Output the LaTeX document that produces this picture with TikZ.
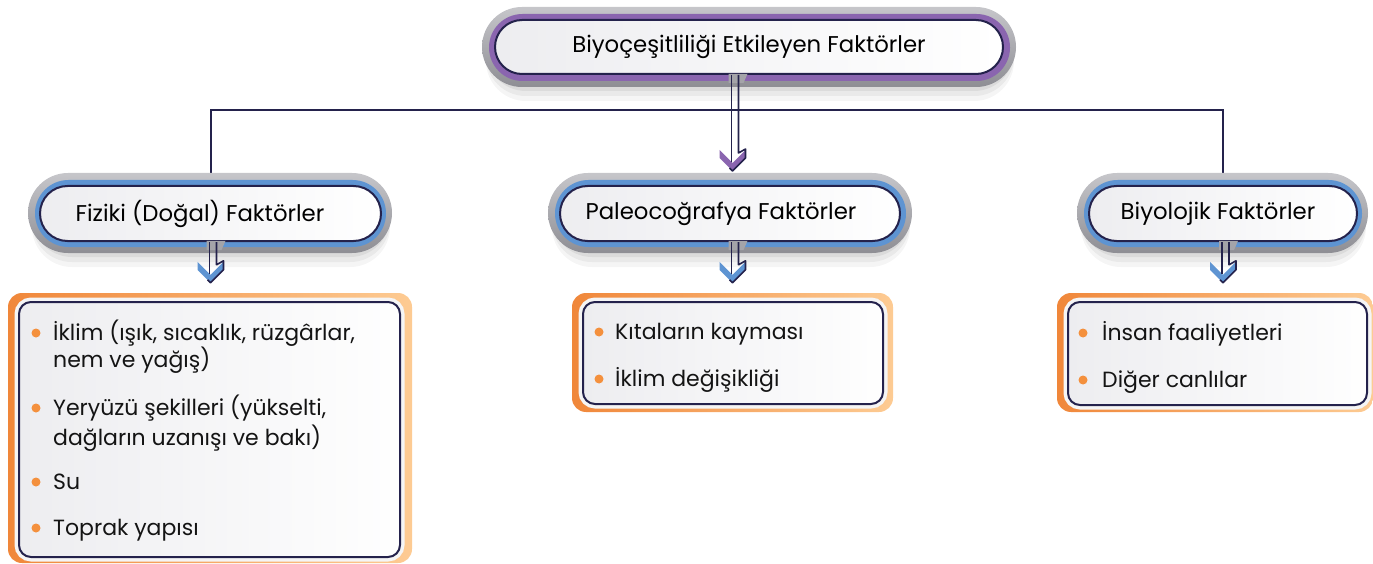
\documentclass[tikz,border=0pt]{standalone}
\usepackage{fontspec}
\setmainfont{Poppins}
\usetikzlibrary{backgrounds,calc,shapes.misc}
\definecolor{navy}{HTML}{24224C}
\definecolor{cpurple}{HTML}{8A65AF}
\definecolor{cblue}{HTML}{5E94D2}
\definecolor{gtop}{HTML}{C6C6CA}
\definecolor{gbot}{HTML}{8E8E94}
\definecolor{gnotch}{HTML}{A4A4A9}
\definecolor{oleft}{HTML}{F0873A}
\definecolor{oright}{HTML}{FDCB93}
\definecolor{bulletc}{HTML}{F4903D}
\definecolor{paper}{HTML}{EDEDF0}
\tikzset{
  conn/.style={draw=navy, line width=2pt},
  pillnode/.style={shape=rounded rectangle, draw=navy, line width=2pt, left color=paper, right color=white, inner sep=0pt, font=\fontsize{22.8}{26}\selectfont, text=black},
  listbox/.style={rectangle, rounded corners=14pt, left color=oleft, right color=oright, inner sep=0pt},
  innerbox/.style={rectangle, rounded corners=12pt, draw=navy, line width=2pt, left color=paper, right color=white!97!paper, inner sep=0pt, preaction={draw=white!92!gray, line width=9pt}},
  itemtext/.style={anchor=base west, inner sep=0pt, font=\fontsize{22}{28}\selectfont, text=black!92},
  dot/.style={circle, fill=bulletc, minimum size=9pt, inner sep=0pt},
  arrline/.style={draw=navy, line width=1.6pt, line join=round},
}
\newcommand\pillrings[5]{%
  \pgfmathsetmacro\rA{(#4-#2)/2}%
  \foreach \k/\op in {4/0.06,9/0.05,14/0.04}{\fill[black, opacity=\op, rounded corners=\rA pt] (#1+4,#2+\k) rectangle (#3-2,#4+\k);}
  \shade[top color=gtop, bottom color=gbot, rounded corners=\rA pt] (#1,#2) rectangle (#3,#4);
  \pgfmathsetmacro\rB{(#4-#2-13)/2}%
  \fill[#5, rounded corners=\rB pt] (#1+7,#2+7) rectangle (#3-6,#4-6);
}
% #1 start on pill edge, #2 tip, #3 colour
\newcommand\hollowarrow[3]{%
  \coordinate (S) at (#2 |- #1);
  \coordinate (T) at (#2);
  \fill[gnotch] ($(S)+(-4,-1.2)$) -- ($(S)+(15,-1.2)$) -- ($(S)+(11,8)$) -- ($(S)+(-4,8)$) -- cycle;
  \fill[#3] ($(T)+(-13,-21)$) -- ($(T)+(0,-8)$) -- ($(T)+(13,-21)$) -- ($(T)+(13,-13)$) -- (T) -- ($(T)+(-13,-13)$) -- cycle;
  \draw[arrline] ($(S)+(-1,0)$) -- ($(T)+(-1,-9)$);
  \draw[arrline] ($(S)+(6,0)$) -- ($(T)+(6,-18)$) -- ($(T)+(13,-22)$) -- ($(T)+(13,-13)$) -- (T) -- ($(T)+(-3,-3)$);
}
\begin{document}
\begin{tikzpicture}[x=1pt,y=-1pt]
\useasboundingbox (0,0) rectangle (1373,564);
% top
\pillrings{482}{7}{1016}{87}{cpurple}
\node[pillnode, minimum width=508pt, minimum height=54pt] (top) at (749,47) {Biyoçeşitliliği Etkileyen Faktörler};
% row 2
\pillrings{28}{173}{392}{253}{cblue}
\node[pillnode, minimum width=341pt, minimum height=55pt] (fiz) at (210.5,213.5) {\kern-21pt Fiziki (Doğal) Faktörler};
\pillrings{548}{173}{912}{253}{cblue}
\node[pillnode, minimum width=340pt, minimum height=55pt] (pal) at (730,213.5) {\kern-18pt Paleocoğrafya Faktörler};
\pillrings{1077}{173}{1368}{253}{cblue}
\node[pillnode, minimum width=268pt, minimum height=55pt] (bio) at (1223,213.5) {\kern-10pt Biyolojik Faktörler};
% list boxes
\node[listbox, minimum width=404pt, minimum height=270pt] (lst1) at (210,428) {};
\node[innerbox, minimum width=381pt, minimum height=255pt] (in1) at (209.5,429.5) {};
\node[listbox, minimum width=321pt, minimum height=119pt] (lst2) at (732.5,352.5) {};
\node[innerbox, minimum width=300pt, minimum height=102pt] (in2) at (733,353) {};
\node[listbox, minimum width=316pt, minimum height=119pt] (lst3) at (1215,352.5) {};
\node[innerbox, minimum width=299pt, minimum height=103pt] (in3) at (1217.5,353.5) {};
% connectors
\coordinate (hub) at (730,110);
\begin{pgfonlayer}{background}
\draw[conn] (fiz.north) |- (hub) -| (bio.north);
\end{pgfonlayer}
\coordinate (tip0) at ([yshift=14pt]lst2.north |- pal.north);
\coordinate (tip1) at ([yshift=10pt]fiz.south |- lst1.north);
\coordinate (tip2) at ([yshift=10pt]lst2.north);
\coordinate (tip3) at ([yshift=10pt]bio.south |- lst3.north);
\hollowarrow{top.south}{tip0}{cpurple}
\hollowarrow{fiz.south}{tip1}{cblue}
\hollowarrow{pal.south}{tip2}{cblue}
\hollowarrow{bio.south}{tip3}{cblue}
% items left
\node[dot] (b1) at (36,333) {};
\node[itemtext] (t1a) at (53,340) {İklim (ışık, sıcaklık, rüzgârlar,};
\node[itemtext] (t1b) at (53,367) {nem ve yağış)};
\node[dot] (b2) at (36,408) {};
\node[itemtext] (t2a) at (53,415) {Yeryüzü şekilleri (yükselti,};
\node[itemtext] (t2b) at (53,445) {dağların uzanışı ve bakı)};
\node[dot] (b3) at (36,482) {};
\node[itemtext] (t3) at (53,489) {Su};
\node[dot] (b4) at (36,528) {};
\node[itemtext] (t4) at (53,535) {Toprak yapısı};
% items middle
\node[dot] (b5) at (599,332) {};
\node[itemtext] (t5) at (615,339) {Kıtaların kayması};
\node[dot] (b6) at (599,379) {};
\node[itemtext] (t6) at (615,386) {İklim değişikliği};
% items right
\node[dot] (b7) at (1083,333) {};
\node[itemtext] (t7) at (1102,340) {İnsan faaliyetleri};
\node[dot] (b8) at (1083,380) {};
\node[itemtext] (t8) at (1102,387) {Diğer canlılar};
\end{tikzpicture}
\end{document}
